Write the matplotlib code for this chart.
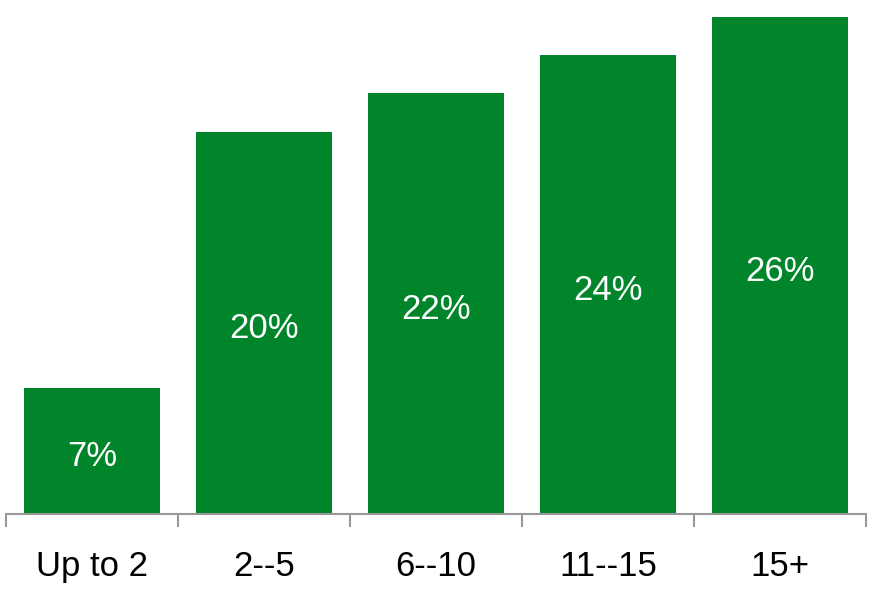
import matplotlib.pyplot as plt
import numpy as np

categories = ['Up to 2', '2--5', '6--10', '11--15', '15+']
values = [6.6, 20, 22, 24, 26]
bar_color = '#00852A'

plt.rcParams['font.family'] = ['Liberation Sans Narrow', 'Liberation Sans', 'DejaVu Sans']

fig = plt.figure(figsize=(8.7, 5.89), dpi=100)
ax = fig.add_axes([6 / 870, 75 / 589, 860 / 870, 514 / 589])

x = np.arange(len(categories))
bars = ax.bar(x, values, width=0.79, color=bar_color)

# labels sit a touch below the bar middle
for xi, v in zip(x, values):
    ax.text(xi, v / 2 - 0.3, '%.0f%%' % v, ha='center', va='center',
            color='white', fontsize=25)

ax.set_xlim(-0.5, len(categories) - 0.5)
ax.set_ylim(0, 514 / 19.12)

for s in ['top', 'right', 'left']:
    ax.spines[s].set_visible(False)
ax.spines['bottom'].set_color('#999999')
ax.spines['bottom'].set_linewidth(1.5)

ax.set_yticks([])
ax.set_xticks(x)
ax.set_xticklabels(categories, fontsize=25)
ax.tick_params(axis='x', which='major', length=0, pad=26)
ax.set_xticks(np.arange(-0.5, len(categories)), minor=True)
ax.tick_params(axis='x', which='minor', length=9, width=1.5, color='#999999')

fig.savefig('out.png', dpi=100)
